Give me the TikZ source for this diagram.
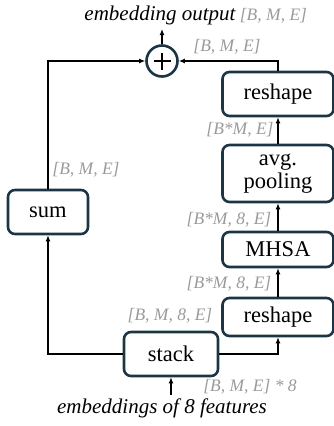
\documentclass[tikz,border=0pt]{standalone}
\usepackage{fontspec}
\setmainfont{Liberation Serif}
\usetikzlibrary{arrows.meta}
\definecolor{boxc}{HTML}{1B3545}
\definecolor{lab}{HTML}{9A9A9A}
\begin{document}
\begin{tikzpicture}[x=1pt,y=-1pt,
 blk/.style={draw=boxc, line width=2.6pt, rounded corners=7pt, minimum width=111pt, font=\fontsize{22.5}{23}\selectfont, align=center, inner sep=0pt},
 lbl/.style={text=lab, font=\fontsize{17.5}{19}\selectfont\itshape, inner sep=0pt},
 ttl/.style={font=\fontsize{21}{23}\selectfont\itshape, inner sep=0pt},
 arr/.style={-{Latex[length=6pt,width=5pt]}, line width=1.8pt},
 plusc/.style={circle, draw=boxc, line width=2.6pt, minimum size=31pt, inner sep=0pt}]
\useasboundingbox (0,0) rectangle (334,426);
\node[blk, minimum height=44pt] (r2) at (278,94) {reshape};
\node[blk, minimum height=57pt] (ap) at (278,173.5) {avg.\\pooling};
\node[blk, minimum height=35pt] (mh) at (278,249.5) {MHSA};
\node[blk, minimum height=38pt] (r1) at (278,317) {reshape};
\node[blk, minimum height=44pt, minimum width=94pt] (st) at (171,354) {stack};
\node[blk, minimum height=44pt, minimum width=80pt] (sm) at (48,212) {sum};
\node[plusc] (pl) at (162,61) {};
\draw[line width=2.8pt] ([xshift=-8.5pt]pl.center) -- ([xshift=8.5pt]pl.center)
  ([yshift=-8.5pt]pl.center) -- ([yshift=8.5pt]pl.center);
\coordinate (out) at (162,29);
\coordinate (in) at (171,395);
\draw[arr] (st.east) -| (r1.south);
\draw[arr] (st.west) -| (sm.south);
\draw[arr] (sm.north) |- (pl.west);
\draw[arr] (r2.north) |- (pl.east);
\draw[arr] (r1.north) -- (mh.south);
\draw[arr] (mh.north) -- (ap.south);
\draw[arr] (ap.north) -- (r2.south);
\draw[arr] (pl.north) -- (out);
\draw[arr] (in) -- (st.south);
\node[ttl, anchor=base] (t) at (160,20) {embedding output};
\node[lbl, anchor=base west] (tl) at ([xshift=4pt]t.base east) {[B, M, E]};
\node[ttl, anchor=base] (b) at (162,413) {embeddings of 8 features};
\node[lbl] (l1) at (227,47) {[B, M, E]};
\node[lbl] (l2) at (240,130) {[B*M, E]};
\node[lbl] (l3) at (86,170) {[B, M, E]};
\node[lbl] (l4) at (229,220) {[B*M, 8, E]};
\node[lbl] (l5) at (229,284) {[B*M, 8, E]};
\node[lbl] (l6) at (170,316) {[B, M, 8, E]};
\node[lbl] (l7) at (250,387) {[B, M, E] * 8};
\end{tikzpicture}
\end{document}
